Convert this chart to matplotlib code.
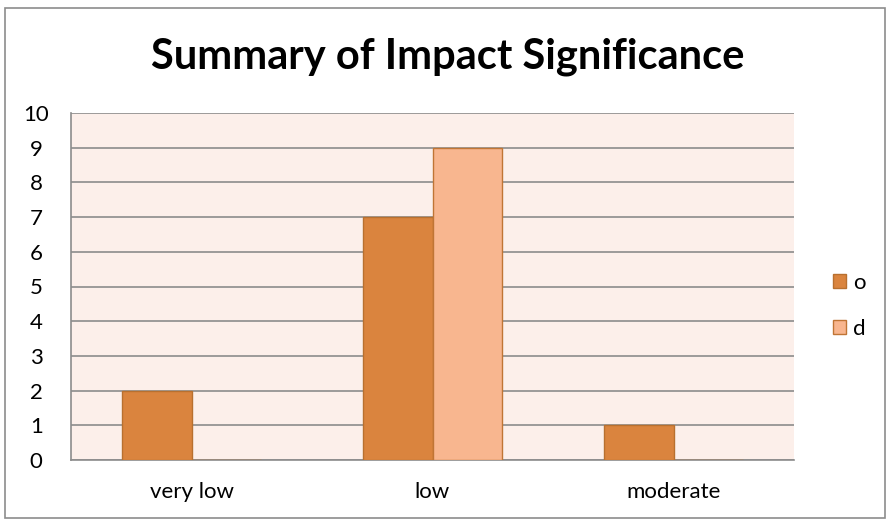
import numpy as np
import matplotlib.pyplot as plt
from matplotlib.patches import Rectangle, Patch

categories = ["very low", "low", "moderate"]
o_values = [2, 7, 1]
d_values = [0, 9, 0]
series_names = ["o", "d"]

plt.rcParams['font.family'] = ['Lato', 'DejaVu Sans']

fig = plt.figure(figsize=(8.91, 5.23), dpi=100)
# outer chart border
fig.patches.append(Rectangle((5 / 891, 5 / 523), 880 / 891, 510 / 523,
                             transform=fig.transFigure, fill=False,
                             edgecolor='#8c8c8c', linewidth=1.2))

ax = fig.add_axes([71 / 891, 63 / 523, 723 / 891, 347 / 523])
ax.set_facecolor('#fcefea')

x = np.arange(len(categories))
w = 0.29
ax.bar(x - w / 2, o_values, w, color='#da843e', edgecolor='#b8702f', linewidth=1, zorder=3)
ax.bar(x + w / 2, d_values, w, color='#f8b68f', edgecolor='#c07535', linewidth=1, zorder=3)

ax.set_xlim(-0.5, 2.5)
ax.set_ylim(0, 10)
ax.set_yticks(range(0, 11))
ax.set_xticks(x)
ax.set_xticklabels(categories)
ax.yaxis.grid(True, color='#8c8c8c', linewidth=1.2, zorder=0)
ax.set_axisbelow(True)
ax.tick_params(axis='both', length=0, labelsize=16, colors='black')
ax.tick_params(axis='y', pad=25)
ax.tick_params(axis='x', pad=16)
for lab in ax.get_yticklabels():
    lab.set_horizontalalignment('center')
for side in ['top', 'right']:
    ax.spines[side].set_visible(False)
ax.spines['left'].set_color('#8c8c8c')
ax.spines['bottom'].set_color('#8c8c8c')
ax.spines['left'].set_linewidth(1.2)
ax.spines['bottom'].set_linewidth(1.2)

fig.text(448 / 891, 1 - 57 / 523, "Summary of Impact Significance",
         ha='center', va='center', fontsize=30, fontweight='bold')

handles = [Patch(facecolor='#da843e', edgecolor='#b8702f'),
           Patch(facecolor='#f8b68f', edgecolor='#c07535')]
fig.legend(handles, series_names, loc='center left',
           bbox_to_anchor=(813 / 891, 1 - 306 / 523), frameon=False,
           fontsize=16, handlelength=0.6, handleheight=0.6,
           handletextpad=0.3, labelspacing=1.15)

fig.savefig('out.png', dpi=100)
